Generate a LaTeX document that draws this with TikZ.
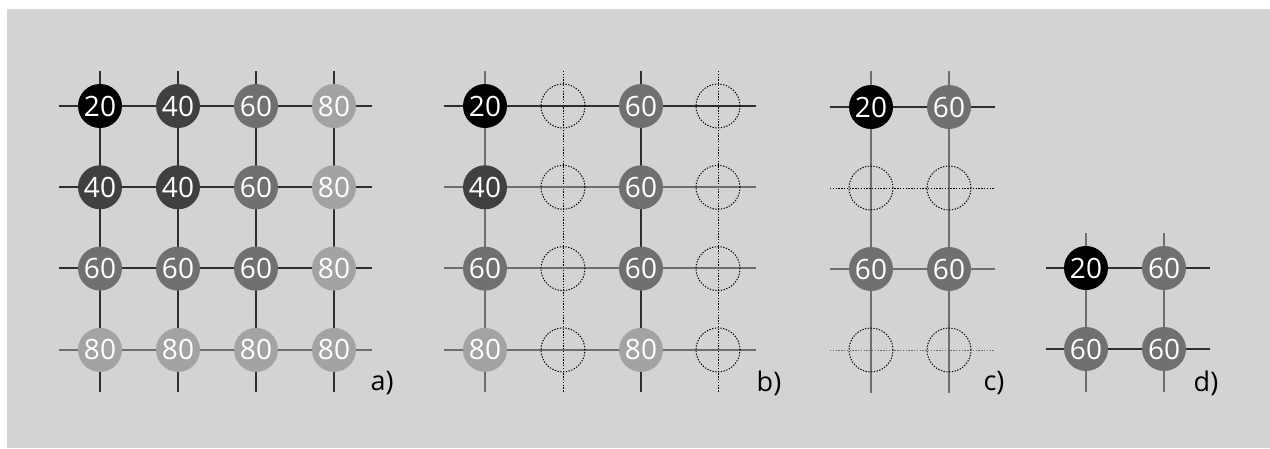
\documentclass[tikz,border=0pt]{standalone}
\usepackage{fontspec}
\setmainfont{Open Sans}
\definecolor{panelbg}{HTML}{D3D3D3}
\definecolor{gforty}{HTML}{404040}
\definecolor{gsixty}{HTML}{707070}
\definecolor{geighty}{HTML}{A3A3A3}
\definecolor{ldark}{HTML}{2E2E2E}
\definecolor{lgray}{HTML}{6E6E6E}
\usetikzlibrary{positioning}

\begin{document}
\begin{tikzpicture}[x=1pt,y=-1pt,
  cell/.style={circle,minimum size=44pt,inner sep=0pt,text=white,
    font=\fontsize{28}{28}\selectfont},
  v20/.style={cell,fill=black},
  v40/.style={cell,fill=gforty},
  v60/.style={cell,fill=gsixty},
  v80/.style={cell,fill=geighty},
  gap/.style={circle,minimum size=44pt,inner sep=0pt,draw=black,
    dash pattern=on 1.3pt off 1.5pt,line width=1pt},
  wd/.style={line width=1.4pt,ldark},
  wg/.style={line width=1.4pt,lgray},
  wdot/.style={line width=1pt,dash pattern=on 1.3pt off 1.5pt,black},
  wdotg/.style={line width=1pt,dash pattern=on 1.3pt off 1.5pt,lgray},
  lbl/.style={font=\fontsize{27}{27}\selectfont}]
  \fill[panelbg] (7,9) rectangle (1270,448);
  \useasboundingbox (0,0) rectangle (1270,448);

  % a) full grid
  \foreach \c/\x in {1/100,2/178,3/256,4/334}{
    \coordinate (a-t\c) at (\x,71);
    \coordinate (a-b\c) at (\x,392);
    \draw[wd] (a-t\c) -- (a-b\c);
  }
  \foreach \r/\y/\s in {1/106/wd,2/187/wd,3/268/wd,4/350/wg}{
    \coordinate (a-l\r) at (59,\y);
    \coordinate (a-r\r) at (372,\y);
    \draw[\s] (a-l\r) -- (a-r\r);
  }
  \foreach \r/\c/\v in {1/1/20,1/2/40,1/3/60,1/4/80,
                        2/1/40,2/2/40,2/3/60,2/4/80,
                        3/1/60,3/2/60,3/3/60,3/4/80,
                        4/1/80,4/2/80,4/3/80,4/4/80}
    \node[v\v] (a\r\c) at ({100+78*(\c-1)},{106+81.3*(\r-1)}) {\v};
  \node[lbl] (la) at (382,383) {a)};

  % b) every other column
  \foreach \c/\x/\s in {1/485/wg,2/563/wdot,3/641/wd,4/718/wdot}{
    \coordinate (b-t\c) at (\x,71);
    \coordinate (b-b\c) at (\x,392);
    \draw[\s] (b-t\c) -- (b-b\c);
  }
  \foreach \r/\y/\s in {1/106/wd,2/187/wg,3/268/wg,4/350/wg}{
    \coordinate (b-l\r) at (444,\y);
    \coordinate (b-r\r) at (756,\y);
    \draw[\s] (b-l\r) -- (b-r\r);
  }
  \foreach \r/\v/\w in {1/20/60,2/40/60,3/60/60,4/80/80}{
    \node[v\v] (b\r1) at (485,{106+81.3*(\r-1)}) {\v};
    \node[gap] (b\r2) at (563,{106+81.3*(\r-1)}) {};
    \node[v\w] (b\r3) at (641,{106+81.3*(\r-1)}) {\w};
    \node[gap] (b\r4) at (718,{106+81.3*(\r-1)}) {};
  }
  \node[lbl] (lb) at (769,383) {b)};

  % c) every other row
  \foreach \c/\x in {1/871,2/949}{
    \coordinate (c-t\c) at (\x,71);
    \coordinate (c-b\c) at (\x,393);
    \draw[wg] (c-t\c) -- (c-b\c);
  }
  \foreach \r/\y/\s in {1/107/wd,2/188/wdot,3/269/wg,4/350/wdotg}{
    \coordinate (c-l\r) at (830,\y);
    \coordinate (c-r\r) at (995,\y);
    \draw[\s] (c-l\r) -- (c-r\r);
  }
  \node[v20] (c11) at (871,107) {20};
  \node[v60] (c12) at (949,107) {60};
  \node[gap] (c21) at (871,188) {};
  \node[gap] (c22) at (949,188) {};
  \node[v60] (c31) at (871,269) {60};
  \node[v60] (c32) at (949,269) {60};
  \node[gap] (c41) at (871,350) {};
  \node[gap] (c42) at (949,350) {};
  \node[lbl] (lc) at (994,383) {c)};

  % d) reduced grid
  \foreach \c/\x in {1/1086,2/1164}{
    \coordinate (d-t\c) at (\x,233);
    \coordinate (d-b\c) at (\x,392);
    \draw[wg] (d-t\c) -- (d-b\c);
  }
  \foreach \r/\y in {1/268,2/349}{
    \coordinate (d-l\r) at (1046,\y);
    \coordinate (d-r\r) at (1210,\y);
    \draw[wd] (d-l\r) -- (d-r\r);
  }
  \node[v20] (d11) at (1086,268) {20};
  \node[v60] (d12) at (1164,268) {60};
  \node[v60] (d21) at (1086,349) {60};
  \node[v60] (d22) at (1164,349) {60};
  \node[lbl] (ld) at (1206,383) {d)};
\end{tikzpicture}
\end{document}
